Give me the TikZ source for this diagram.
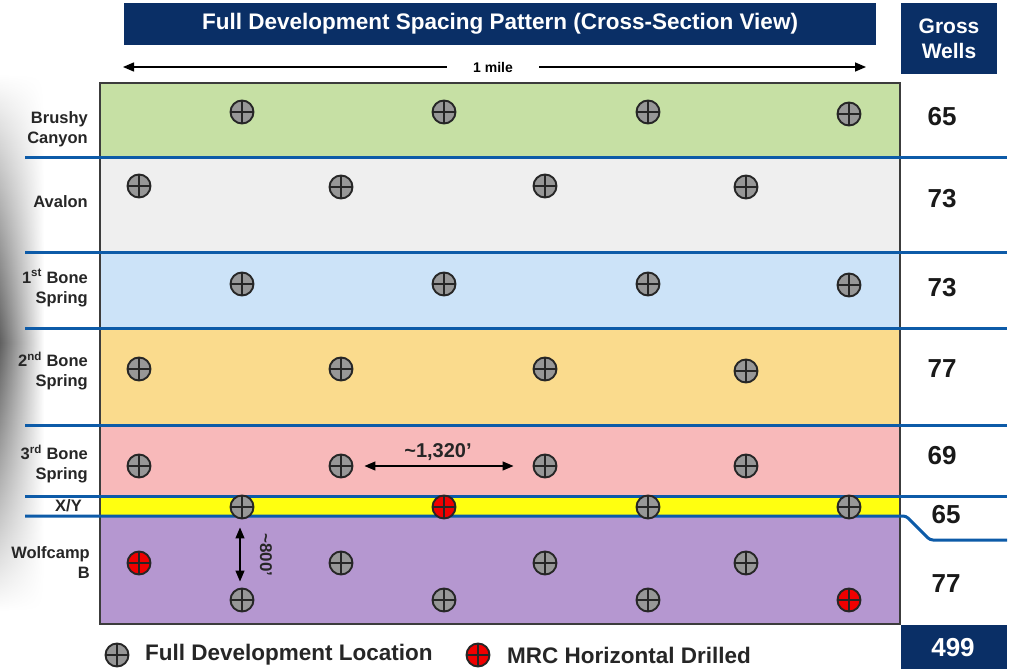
\documentclass[tikz,border=0pt]{standalone}
\usepackage{fontspec}
\setmainfont{Liberation Sans}
\usetikzlibrary{arrows.meta,fadings}
\definecolor{navy}{HTML}{0A2F66}
\definecolor{bline}{HTML}{0D5BA8}
\definecolor{cgreen}{HTML}{C6E0A4}
\definecolor{cgray}{HTML}{EFEFEF}
\definecolor{cblue}{HTML}{CCE3F8}
\definecolor{corange}{HTML}{FADB8D}
\definecolor{cpink}{HTML}{F8B9BA}
\definecolor{cyellow}{HTML}{FFFF10}
\definecolor{cpurple}{HTML}{B597D0}
\definecolor{wellgray}{HTML}{979797}
\definecolor{wellred}{HTML}{F00000}
\definecolor{edge}{HTML}{3C3C3C}
\tikzfading[name=vfade, top color=transparent!100, bottom color=transparent!100, middle color=transparent!0]
\tikzset{
  well/.style={circle, draw=black!85, line width=1.9pt, fill=wellgray,
    minimum size=23pt, inner sep=0pt,
    path picture={\draw[black!85, line width=1.4pt]
      (path picture bounding box.north) -- (path picture bounding box.south)
      (path picture bounding box.west) -- (path picture bounding box.east);}},
  redwell/.style={well, fill=wellred},
  layerlab/.style={font=\fontsize{16.5}{20}\selectfont\bfseries, align=right, anchor=east, text=black!85, inner sep=0pt},
  count/.style={font=\fontsize{26}{30}\selectfont\bfseries, text=black!90},
  navybox/.style={fill=navy},
  whitetxt/.style={text=white, font=\bfseries},
  layerline/.style={draw=bline, line width=3pt},
  dimarr/.style={line width=1.3pt, {Triangle[length=11pt,width=9pt]}-{Triangle[length=11pt,width=9pt]}},
  milearr/.style={line width=1.5pt, -{Triangle[length=11pt,width=9pt]}},
  legtxt/.style={font=\fontsize{22.5}{25}\selectfont\bfseries, anchor=west, text=black!85, inner sep=0pt},
}
\begin{document}
\begin{tikzpicture}[x=1pt,y=-1pt]
\useasboundingbox (0,0) rectangle (1012,669);
% slide shadow at left edge
\shade[left color=black!62, right color=white, path fading=vfade] (0,75) rectangle (44,610);
% title bar
\fill[navybox] (124,3) rectangle (876,45);
\node[whitetxt, font=\fontsize{22.5}{25}\selectfont\bfseries] (title) at (500,24) {Full Development Spacing Pattern (Cross-Section View)};
% gross wells header
\fill[navybox] (901,3) rectangle (997,74);
\node[whitetxt, align=center, font=\fontsize{21}{25}\selectfont\bfseries] (gw) at (949,39) {Gross\\Wells};
% 1 mile arrow
\coordinate (m1) at (123,67);
\coordinate (m2) at (866,67);
\node[font=\fontsize{14}{16}\selectfont\bfseries, inner xsep=26pt] (mile) at (493,67) {1 mile};
\draw[milearr] (mile.west) -- (m1);
\draw[milearr] (mile.east) -- (m2);
% bands
\fill[cgreen] (100,83) rectangle (900,157);
\fill[cgray] (100,157) rectangle (900,252);
\fill[cblue] (100,252) rectangle (900,328);
\fill[corange] (100,328) rectangle (900,425);
\fill[cpink] (100,425) rectangle (900,496);
\fill[cyellow] (100,496) rectangle (900,516);
\fill[cpurple] (100,516) rectangle (900,624);
\draw[edge, line width=1.6pt] (100,83) rectangle (900,624);
% layer boundaries
\draw[layerline] (25,157) -- (1007,157);
\draw[layerline] (25,252) -- (1007,252);
\draw[layerline] (25,328) -- (1007,328);
\draw[layerline] (25,425) -- (1007,425);
\draw[layerline] (25,496) -- (1007,496);
\draw[layerline, rounded corners=3pt] (25,516) -- (906,516) -- (930,540) -- (1007,540);
% layer labels
\node[layerlab] (lbc) at (88,129) {Brushy\\Canyon};
\node[layerlab] (lav) at (88,202) {Avalon};
\node[layerlab] (lb1) at (88,288) {1\textsuperscript{st} Bone\\Spring};
\node[layerlab] (lb2) at (88,371) {2\textsuperscript{nd} Bone\\Spring};
\node[layerlab] (lb3) at (88,464) {3\textsuperscript{rd} Bone\\Spring};
\node[layerlab] (lxy) at (82,506) {X/Y};
\node[layerlab] (lwb) at (90,563) {Wolfcamp\\B};
% wells
\node[well] (bc1) at (242,112) {};
\node[well] (bc2) at (444,112) {};
\node[well] (bc3) at (648,112) {};
\node[well] (bc4) at (849,114) {};
\node[well] (av1) at (139,186) {};
\node[well] (av2) at (341,187) {};
\node[well] (av3) at (545,186) {};
\node[well] (av4) at (746,187) {};
\node[well] (fb1) at (242,284) {};
\node[well] (fb2) at (444,284) {};
\node[well] (fb3) at (648,284) {};
\node[well] (fb4) at (849,285) {};
\node[well] (sb1) at (139,369) {};
\node[well] (sb2) at (341,369) {};
\node[well] (sb3) at (545,369) {};
\node[well] (sb4) at (746,371) {};
\node[well] (tb1) at (139,466) {};
\node[well] (tb2) at (341,466) {};
\node[well] (tb3) at (545,466) {};
\node[well] (tb4) at (746,466) {};
\node[well] (xy1) at (242,507) {};
\node[redwell] (xy2) at (444,507) {};
\node[well] (xy3) at (648,507) {};
\node[well] (xy4) at (849,507) {};
\node[redwell] (wu1) at (139,563) {};
\node[well] (wu2) at (341,563) {};
\node[well] (wu3) at (545,563) {};
\node[well] (wu4) at (746,563) {};
\node[well] (wl1) at (242,600) {};
\node[well] (wl2) at (444,600) {};
\node[well] (wl3) at (648,600) {};
\node[redwell] (wl4) at (849,600) {};
% dimensions
\draw[dimarr, shorten <=11pt, shorten >=19pt] (tb2) -- (tb3);
\node[font=\fontsize{20}{23}\selectfont\bfseries, text=black!85] (d1320) at (438,452) {\char"7E 1,320’};
\draw[dimarr, shorten <=8pt, shorten >=6pt] ([xshift=-2pt]xy1.south) -- ([xshift=-2pt]wl1.north);
\node[font=\fontsize{17}{20}\selectfont\bfseries, text=black!85, rotate=-90] (d800) at (266,555) {\char"7E 800’};
% gross well counts
\node[count] (n1) at (942,117) {65};
\node[count] (n2) at (942,199) {73};
\node[count] (n3) at (942,288) {73};
\node[count] (n4) at (942,369) {77};
\node[count] (n5) at (942,456) {69};
\node[count] (n6) at (946,515) {65};
\node[count] (n7) at (946,584) {77};
\fill[navybox] (901,625) rectangle (1007,669);
\node[whitetxt, font=\fontsize{26}{30}\selectfont\bfseries] (tot) at (953,648) {499};
% legend
\node[well] (lg1) at (117,655) {};
\node[legtxt] (lt1) at (145,655) {Full Development Location};
\node[redwell] (lg2) at (478,655) {};
\node[legtxt] (lt2) at (507,655) {MRC Horizontal Drilled};
\end{tikzpicture}
\end{document}
